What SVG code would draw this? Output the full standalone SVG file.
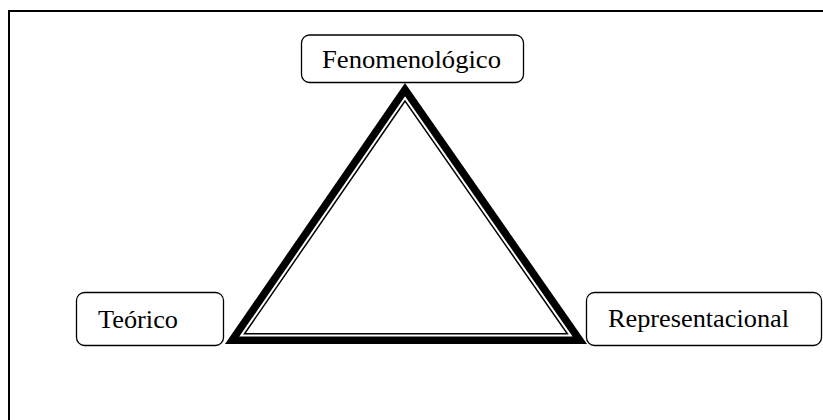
<svg xmlns="http://www.w3.org/2000/svg" width="823" height="420" viewBox="0 0 823 420">
<style>
.box{fill:#fff;stroke:#000;stroke-width:1.3}
.lbl{font-family:"Liberation Serif","Times New Roman",serif;font-size:25px;fill:#000}
.frame{stroke:#000;stroke-width:2;fill:none}
</style>
<rect width="823" height="420" fill="#fff"/>
<path class="frame" d="M9 420 V11 H823"/>
<g id="connectors">
<polygon points="405,83 225,344 587,344" fill="#000"/>
<polygon points="405.03,96.16 239.28,336.5 572.63,336.5" fill="#fff"/>
<polygon points="405.05,100.99 244.52,333.75 567.36,333.75" fill="#fff" stroke="#000" stroke-width="1.5"/>
</g>
<g id="fenomenologico">
<rect class="box" x="301.5" y="35" width="222" height="47.5" rx="8"/>
<text class="lbl" x="322" y="68" textLength="179" lengthAdjust="spacingAndGlyphs">Fenomenológico</text>
</g>
<g id="teorico">
<rect class="box" x="76.5" y="292.5" width="147" height="53" rx="8"/>
<text class="lbl" x="98" y="328" textLength="80" lengthAdjust="spacingAndGlyphs">Teórico</text>
</g>
<g id="representacional">
<rect class="box" x="586.5" y="292.5" width="235" height="53" rx="8"/>
<text class="lbl" x="608" y="327" textLength="181" lengthAdjust="spacingAndGlyphs">Representacional</text>
</g>
</svg>
